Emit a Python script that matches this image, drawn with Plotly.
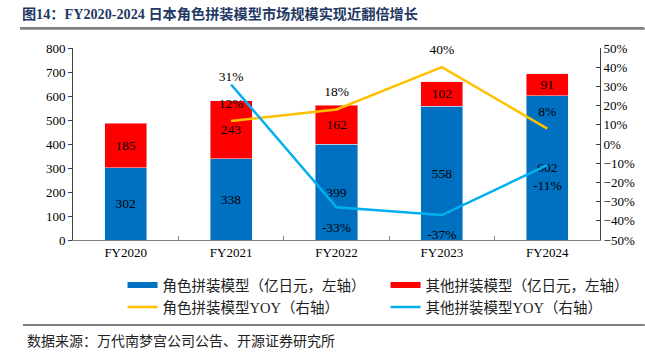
import plotly.graph_objects as go

categories = ["FY2020", "FY2021", "FY2022", "FY2023", "FY2024"]
char_models = [302, 338, 399, 558, 602]
other_models = [185, 243, 162, 102, 91]
yoy_cats = ["FY2021", "FY2022", "FY2023", "FY2024"]
char_yoy = [12, 18, 40, 8]
other_yoy = [31, -33, -37, -11]

SERIF = "Liberation Serif, Times New Roman, Noto Sans CJK SC"
BLUE = "#0070C0"
RED = "#FF0000"
YEL = "#FFC000"
LBLUE = "#00B0F0"
LBL = dict(family=SERIF, size=13.5, color="black")
CLEAR = dict(color="rgba(0,0,0,0)", line=dict(width=0, color="rgba(0,0,0,0)"))

fig = go.Figure()
fig.add_trace(go.Bar(x=categories, y=char_models, marker_color=BLUE, width=0.4,
                     text=[str(v) for v in char_models], textposition="inside",
                     insidetextanchor="middle", textangle=0, textfont=LBL,
                     showlegend=False, hoverinfo="skip"))
fig.add_trace(go.Bar(x=categories, y=other_models, marker_color=RED, width=0.4,
                     text=[str(v) for v in other_models], textposition="inside",
                     insidetextanchor="middle", textangle=0, textfont=LBL,
                     showlegend=False, hoverinfo="skip"))
fig.add_trace(go.Scatter(x=yoy_cats, y=char_yoy, yaxis="y2", mode="lines+markers+text",
                         line=dict(color=YEL, width=2.5),
                         marker=dict(size=14, **CLEAR),
                         text=[f"{v}%" for v in char_yoy], textposition="top center",
                         textfont=LBL, showlegend=False, cliponaxis=False, hoverinfo="skip"))
fig.add_trace(go.Scatter(x=yoy_cats, y=other_yoy, yaxis="y2", mode="lines+markers+text",
                         line=dict(color=LBLUE, width=2.5),
                         marker=dict(size=[0, 21, 20, 22], **CLEAR),
                         text=[f"{v}%" for v in other_yoy],
                         textposition=["top center", "bottom center", "bottom center", "bottom center"],
                         textfont=LBL, showlegend=False, cliponaxis=False, hoverinfo="skip"))

# legend proxies
fig.add_trace(go.Scatter(x=[None], y=[None], mode="lines", line=dict(color=BLUE, width=6),
                         name="角色拼装模型（亿日元，左轴）", legend="legend"))
fig.add_trace(go.Scatter(x=[None], y=[None], mode="lines", line=dict(color=RED, width=6),
                         name="其他拼装模型（亿日元，左轴）", legend="legend"))
fig.add_trace(go.Scatter(x=[None], y=[None], mode="lines", line=dict(color=YEL, width=2.5),
                         name="角色拼装模型YOY（右轴）", legend="legend2"))
fig.add_trace(go.Scatter(x=[None], y=[None], mode="lines", line=dict(color=LBLUE, width=2.5),
                         name="其他拼装模型YOY（右轴）", legend="legend2"))

legend_common = dict(orientation="h", xanchor="left", yanchor="middle",
                     xref="container", yref="container", traceorder="normal",
                     font=dict(family=SERIF, size=14.5, color="#222"),
                     entrywidth=218, entrywidthmode="pixels",
                     bgcolor="rgba(0,0,0,0)", itemclick=False, tracegroupgap=0)

fig.update_layout(
    width=645, height=357,
    margin=dict(l=73, r=45, t=48, b=117, autoexpand=False),
    paper_bgcolor="white", plot_bgcolor="white",
    barmode="stack",
    font=dict(family=SERIF, size=13, color="black"),
    xaxis=dict(type="category", showline=True, linecolor="#808080", linewidth=1,
               ticks="inside", tickson="boundaries", ticklen=4, tickcolor="#808080",
               tickfont=dict(family=SERIF, size=13, color="black"), showgrid=False),
    yaxis=dict(range=[0, 800], dtick=100, showline=True, linecolor="#404040", linewidth=1,
               ticks="outside", ticklen=4, tickcolor="#404040", showgrid=False, zeroline=False,
               tickfont=dict(family=SERIF, size=13, color="black")),
    yaxis2=dict(range=[-50, 50], dtick=10, ticksuffix="%", overlaying="y", side="right",
                showline=True, linecolor="#404040", linewidth=1, ticks="inside", ticklen=4,
                tickcolor="#404040", showgrid=False, zeroline=False,
                tickfont=dict(family=SERIF, size=13, color="black")),
    legend=dict(x=0.19, y=0.2017, **legend_common),
    legend2=dict(x=0.19, y=0.140, **legend_common),
    title=dict(text="<b>图14：FY2020-2024 日本角色拼装模型市场规模实现近翻倍增长</b>",
               x=0.034, xanchor="left", y=0.962, yanchor="middle",
               font=dict(family=SERIF, size=14.2, color="#1F3864")),
)

# rule under title and above source
fig.add_shape(type="line", xref="paper", yref="paper", x0=-0.1, x1=1.085, y0=1.1, y1=1.1,
              line=dict(color="#808080", width=2))
fig.add_annotation(text=" ", xref="paper", yref="paper", x=-0.1, y=1.104,
                   xanchor="left", yanchor="middle", showarrow=False,
                   font=dict(size=1), width=624, height=2, bgcolor="#808080",
                   borderpad=0, borderwidth=0)
fig.add_shape(type="line", xref="paper", yref="paper", x0=-0.095, x1=1.085, y0=-0.443, y1=-0.443,
              line=dict(color="#808080", width=2))
fig.add_annotation(text="数据来源：万代南梦宫公司公告、开源证券研究所", xref="paper", yref="paper",
                   x=-0.091, y=-0.531, xanchor="left", yanchor="middle", showarrow=False,
                   font=dict(family=SERIF, size=14, color="#222"))

fig.write_html("out.html", config={"displayModeBar": False},
               post_script="document.body.style.margin='0';document.body.style.padding='0';")
